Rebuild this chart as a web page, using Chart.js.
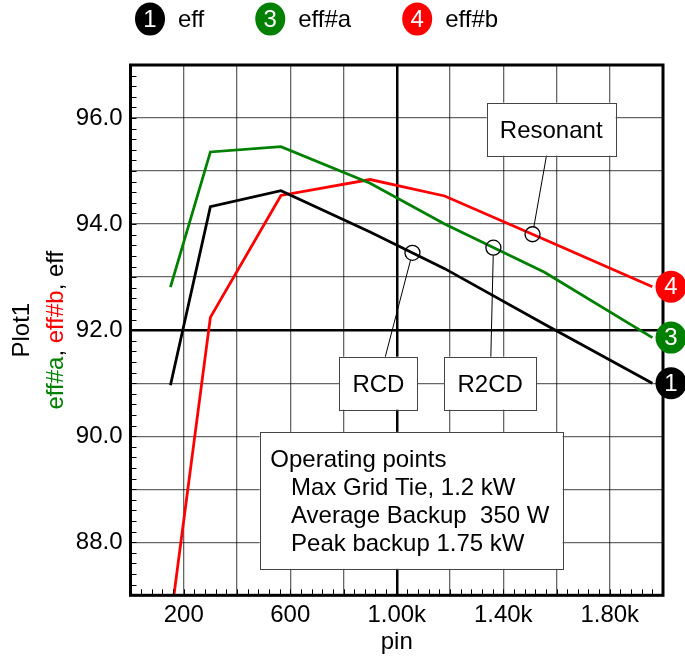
<!DOCTYPE html>
<html>
<head>
<meta charset="utf-8">
<script src="https://cdn.jsdelivr.net/npm/chart.js@4.4.0/dist/chart.umd.min.js"></script>
<style>
html, body { margin: 0; padding: 0; background: #fff; }
</style>
</head>
<body>
<canvas id="chart" width="685" height="661"></canvas>
<script>
// values
var pinValues = [150, 300, 565, 900, 1180, 1555, 1960];
var effValues = [90.96, 94.33, 94.63, 93.85, 93.16, 92.11, 91.0];
var effAValues = [92.81, 95.36, 95.46, 94.77, 94.0, 93.09, 91.86];
var effBValues = [86.5, 92.24, 94.54, 94.84, 94.53, 93.71, 92.82];

var seriesNames = ['eff', 'eff#a', 'eff#b'];
var seriesTags = ['1', '3', '4'];
var seriesColors = ['#000000', '#008000', '#ff0000'];

var xTickValues = [200, 600, 1000, 1400, 1800];
var xTickLabels = ['200', '600', '1.00k', '1.40k', '1.80k'];
var yTickValues = [88, 90, 92, 94, 96];
var yTickLabels = ['88.0', '90.0', '92.0', '94.0', '96.0'];

// callouts: label, which series, pin where the circle sits
var noteLabels = ['Resonant', 'RCD', 'R2CD'];
var noteSeries = [2, 0, 1];
var notePins = [1510, 1059, 1363];

var opLines = ['Operating points', 'Max Grid Tie, 1.2 kW', 'Average Backup  350 W', 'Peak backup 1.75 kW'];

var FONT = '"Liberation Sans", Arial, sans-serif';

function pts(ys) {
  var out = [];
  for (var i = 0; i < pinValues.length; i++) out.push({x: pinValues[i], y: ys[i]});
  return out;
}

function yAt(ys, x) {
  for (var i = 0; i < pinValues.length - 1; i++) {
    if (x >= pinValues[i] && x <= pinValues[i + 1]) {
      var t = (x - pinValues[i]) / (pinValues[i + 1] - pinValues[i]);
      return ys[i] + t * (ys[i + 1] - ys[i]);
    }
  }
  return ys[ys.length - 1];
}

var allSeries = [effValues, effAValues, effBValues];

// box layout for the callouts (centre in data units, size in px)
var notePlace = [
  {cx: 1580, cy: 95.79, w: 129, h: 53},
  {cx: 931, cy: 91.0, w: 78, h: 53},
  {cx: 1351, cy: 91.0, w: 92, h: 53}
];
var opPlace = {cx: 1054, cy: 88.79, w: 303, h: 137};

var decor = {
  id: 'decor',
  beforeDraw: function (chart) {
    var ctx = chart.ctx;
    ctx.save();
    ctx.fillStyle = '#fff';
    ctx.fillRect(0, 0, chart.width, chart.height);
    ctx.restore();
  },
  afterDatasetsDraw: function (chart) {
    var ctx = chart.ctx, a = chart.chartArea;
    var xs = chart.scales.x, ys = chart.scales.y;
    ctx.save();

    // minor ticks, inside
    ctx.strokeStyle = '#000';
    ctx.lineWidth = 1;
    ctx.beginPath();
    for (var k = 0; k <= 50; k++) {
      var py = Math.round(ys.getPixelForValue(87 + k * 0.2)) + 0.5;
      ctx.moveTo(a.left, py); ctx.lineTo(a.left + 6, py);
    }
    for (var j = 0; j <= 50; j++) {
      var px = Math.round(xs.getPixelForValue(j * 40)) + 0.5;
      ctx.moveTo(px, a.bottom); ctx.lineTo(px, a.bottom - 6);
    }
    ctx.stroke();

    // frame
    ctx.lineWidth = 3;
    ctx.strokeRect(a.left, a.top, a.right - a.left, a.bottom - a.top);

    // callouts
    ctx.font = '24px ' + FONT;
    for (var n = 0; n < noteLabels.length; n++) {
      var s = allSeries[noteSeries[n]];
      var tx = xs.getPixelForValue(notePins[n]);
      var ty = ys.getPixelForValue(yAt(s, notePins[n]));
      var p = notePlace[n];
      var bx = xs.getPixelForValue(p.cx), by = ys.getPixelForValue(p.cy);
      var dx = tx - bx, dy = ty - by, d = Math.sqrt(dx * dx + dy * dy);
      ctx.strokeStyle = '#000';
      ctx.lineWidth = 1;
      ctx.beginPath();
      ctx.moveTo(bx, by);
      ctx.lineTo(tx - dx / d * 7.5, ty - dy / d * 7.5);
      ctx.stroke();
      ctx.beginPath();
      ctx.arc(tx, ty, 7.5, 0, Math.PI * 2);
      ctx.lineWidth = 1.3;
      ctx.stroke();
      ctx.fillStyle = '#fff';
      ctx.fillRect(bx - p.w / 2, by - p.h / 2, p.w, p.h);
      ctx.strokeStyle = '#444';
      ctx.lineWidth = 1;
      ctx.strokeRect(Math.round(bx - p.w / 2) + 0.5, Math.round(by - p.h / 2) + 0.5, p.w, p.h);
      ctx.fillStyle = '#000';
      ctx.textAlign = 'center';
      ctx.textBaseline = 'alphabetic';
      ctx.fillText(noteLabels[n], bx, by + 8.6);
    }

    // operating points box
    var ox = xs.getPixelForValue(opPlace.cx) - opPlace.w / 2;
    var oy = ys.getPixelForValue(opPlace.cy) - opPlace.h / 2;
    ctx.fillStyle = '#fff';
    ctx.fillRect(ox, oy, opPlace.w, opPlace.h);
    ctx.strokeStyle = '#444';
    ctx.strokeRect(Math.round(ox) + 0.5, Math.round(oy) + 0.5, opPlace.w, opPlace.h);
    ctx.fillStyle = '#000';
    ctx.textAlign = 'left';
    for (var m = 0; m < opLines.length; m++) {
      ctx.fillText(opLines[m], ox + (m === 0 ? 10.7 : 31.4), oy + 35.6 + m * 27.7);
    }

    // end markers at the right edge
    for (var q = 0; q < allSeries.length; q++) {
      var last = allSeries[q][allSeries[q].length - 1];
      var my = ys.getPixelForValue(last);
      var mx = a.right + 8;
      ctx.fillStyle = seriesColors[q];
      ctx.beginPath();
      ctx.ellipse(mx, my, 15.5, 16, 0, 0, Math.PI * 2);
      ctx.fill();
      ctx.fillStyle = '#fff';
      ctx.font = '24px ' + FONT;
      ctx.textAlign = 'center';
      ctx.textBaseline = 'middle';
      ctx.fillText(seriesTags[q], mx, my + 1);
    }
    ctx.restore();
  },
  afterDraw: function (chart) {
    var ctx = chart.ctx, a = chart.chartArea;
    ctx.save();
    // legend
    var cx = 150, ly = 19;
    for (var i = 0; i < seriesNames.length; i++) {
      ctx.fillStyle = seriesColors[i];
      ctx.beginPath();
      ctx.ellipse(cx, ly, 15, 16.5, 0, 0, Math.PI * 2);
      ctx.fill();
      ctx.fillStyle = '#fff';
      ctx.font = '24px ' + FONT;
      ctx.textAlign = 'center';
      ctx.textBaseline = 'middle';
      ctx.fillText(seriesTags[i], cx, ly + 1);
      ctx.fillStyle = '#000';
      ctx.textAlign = 'left';
      ctx.fillText(seriesNames[i], cx + 28, ly + 1);
      cx = cx + 28 + ctx.measureText(seriesNames[i]).width + 66;
    }

    // x title
    ctx.fillStyle = '#000';
    ctx.font = '24px ' + FONT;
    ctx.textAlign = 'center';
    ctx.textBaseline = 'alphabetic';
    ctx.fillText('pin', (a.left + a.right) / 2, 649);

    // y titles, rotated
    var midY = (a.top + a.bottom) / 2;
    ctx.save();
    ctx.translate(22, midY);
    ctx.rotate(-Math.PI / 2);
    ctx.textBaseline = 'middle';
    ctx.fillText('Plot1', 0, 0);
    ctx.restore();

    var parts = ['eff#a', ', ', 'eff#b', ', ', 'eff'];
    var partColors = [seriesColors[1], '#000', seriesColors[2], '#000', seriesColors[0]];
    var total = 0;
    for (var p = 0; p < parts.length; p++) total += ctx.measureText(parts[p]).width;
    ctx.save();
    ctx.translate(56, midY);
    ctx.rotate(-Math.PI / 2);
    ctx.textBaseline = 'middle';
    ctx.textAlign = 'left';
    var pos = -total / 2;
    for (var r = 0; r < parts.length; r++) {
      ctx.fillStyle = partColors[r];
      ctx.fillText(parts[r], pos, 0);
      pos += ctx.measureText(parts[r]).width;
    }
    ctx.restore();
    ctx.restore();
  }
};

function gridColor(ctx, strong) {
  return ctx.tick && ctx.tick.value === strong ? '#000' : 'rgba(0,0,0,0.6)';
}
function gridWidth(ctx, strong) {
  return ctx.tick && ctx.tick.value === strong ? 2.5 : 1.3;
}

new Chart(document.getElementById('chart'), {
  type: 'line',
  data: {
    datasets: [
      {label: seriesNames[0], data: pts(effValues), borderColor: seriesColors[0]},
      {label: seriesNames[1], data: pts(effAValues), borderColor: seriesColors[1]},
      {label: seriesNames[2], data: pts(effBValues), borderColor: seriesColors[2]}
    ]
  },
  options: {
    responsive: false,
    animation: false,
    devicePixelRatio: 1,
    elements: {
      line: {borderWidth: 2.8, tension: 0, fill: false},
      point: {radius: 0}
    },
    layout: {padding: {left: 0, right: 22, top: 65, bottom: 0}},
    plugins: {legend: {display: false}, tooltip: {enabled: false}},
    scales: {
      x: {
        type: 'linear', min: 0, max: 2000,
        afterFit: function (s) { s.height = 65.7; },
        ticks: {
          stepSize: 200, autoSkip: false, maxRotation: 0, padding: 6, color: '#000',
          font: {family: FONT, size: 24},
          callback: function (v) {
            var i = xTickValues.indexOf(v);
            return i >= 0 ? xTickLabels[i] : '';
          }
        },
        grid: {
          drawTicks: false,
          color: function (c) { return gridColor(c, 1000); },
          lineWidth: function (c) { return gridWidth(c, 1000); }
        },
        border: {display: false}
      },
      y: {
        min: 87, max: 97,
        afterFit: function (s) { s.width = 130.5; },
        ticks: {
          stepSize: 1, autoSkip: false, padding: 8, color: '#000',
          font: {family: FONT, size: 24},
          callback: function (v) {
            var i = yTickValues.indexOf(v);
            return i >= 0 ? yTickLabels[i] : '';
          }
        },
        grid: {
          drawTicks: false,
          color: function (c) { return gridColor(c, 92); },
          lineWidth: function (c) { return gridWidth(c, 92); }
        },
        border: {display: false}
      }
    }
  },
  plugins: [decor]
});
</script>
</body>
</html>
